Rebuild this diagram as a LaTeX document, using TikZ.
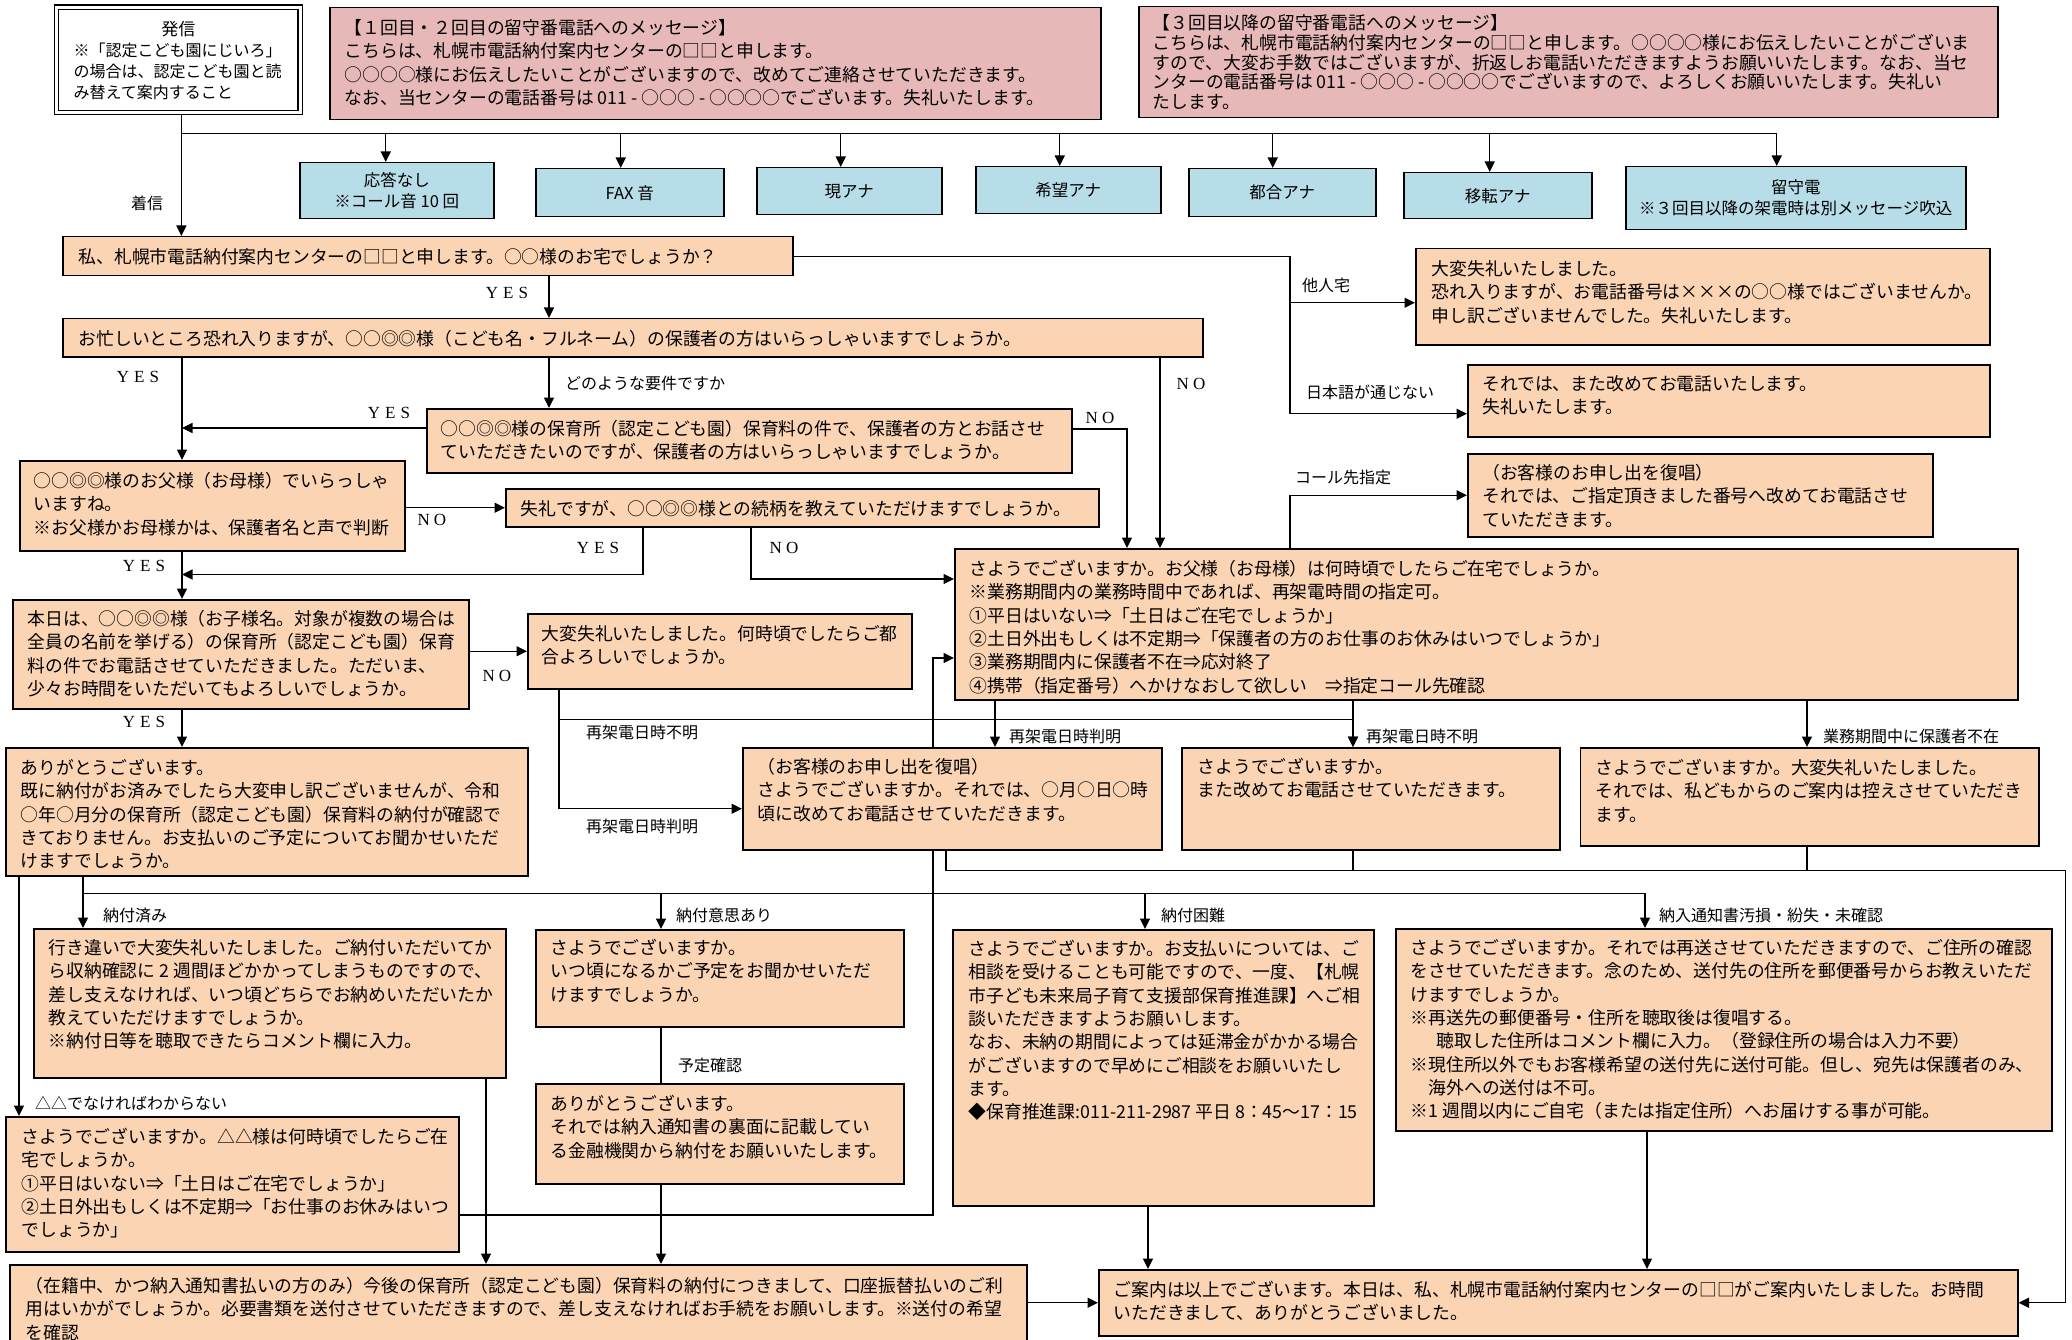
\documentclass[tikz,border=0pt]{standalone}
\usepackage{fontspec}
\setmainfont{Noto Sans CJK JP}
\newfontfamily\lat{Liberation Serif}
\usetikzlibrary{arrows.meta,calc}
\definecolor{peach}{HTML}{FBD4B4}
\definecolor{pinkc}{HTML}{E6B9B8}
\definecolor{bluec}{HTML}{B7DDE8}
\pgfdeclarelayer{bg}
\pgfdeclarelayer{paper}
\pgfsetlayers{paper,bg,main}
\newcommand\fsmain{\fontsize{17.8}{23.3}\selectfont}
\newcommand\yeslab{Y\hspace{5pt}E\hspace{5pt}S}
\newcommand\nolab{N\hspace{4pt}O}
% name, style, x, y, w, h, left pad, first-line centre offset, text
\newcommand\bx[9]{%
 \node[#2,anchor=north west,inner sep=0pt,minimum width=#5pt,minimum height=#6pt] (#1) at (#3,#4)
 {\parbox[c][#6pt][t]{#5pt}{\vspace*{\dimexpr#8pt-0.52em\relax}\leftskip=#7pt\relax\rule{0pt}{0.9em}#9}};}
\begin{document}
\begin{tikzpicture}[x=1pt,y=-1pt,
 arr/.style={-{Triangle[length=10.5pt,width=10pt]},line width=1.2pt},
 ln/.style={line width=1.2pt},
 pbox/.style={draw,line width=1.5pt,fill=peach,font=\fsmain},
 kbox/.style={draw,line width=1.5pt,fill=pinkc,font=\fsmain},
 bluebox/.style={draw,line width=1.5pt,fill=bluec,font=\fontsize{16.5}{21}\selectfont,align=center,inner sep=0pt,anchor=north west},
 lab/.style={font=\fontsize{16}{18}\selectfont,inner sep=0pt,anchor=west},
 yn/.style={font=\lat\fontsize{17}{19}\selectfont,inner sep=0pt}]
\begin{pgfonlayer}{paper}
\fill[white] (0,0) rectangle (2072,1340);
\end{pgfonlayer}
\useasboundingbox (0,0) rectangle (2072,1340);

% ---- top ----
\bx{hs}{draw,line width=1.3pt,double,double distance=2.8pt,fill=white,font=\fontsize{16}{21.3}\selectfont}{56}{6.5}{243.5}{105.5}{17}{21.8}{\makebox[209.5pt][c]{\fontsize{17}{21.3}\selectfont 発信}\\※「認定こども園にじいろ」\\の場合は、認定こども園と読\\み替えて案内すること}
\bx{P1}{kbox}{329}{7}{771}{112}{15}{20}{【１回目・２回目の留守番電話へのメッセージ】\\こちらは、札幌市電話納付案内センターの□□と申します。\\○○○○様にお伝えしたいことがございますので、改めてご連絡させていただきます。\\なお、当センターの電話番号は 011 - ○○○ - ○○○○でございます。失礼いたします。}
\bx{P2}{kbox,font=\fontsize{17.8}{19.8}\selectfont}{1138}{6}{859}{111}{14}{16}{【３回目以降の留守番電話へのメッセージ】\\こちらは、札幌市電話納付案内センターの□□と申します。○○○○様にお伝えしたいことがございま\\すので、大変お手数ではございますが、折返しお電話いただきますようお願いいたします。なお、当セ\\ンターの電話番号は 011 - ○○○ - ○○○○でございますので、よろしくお願いいたします。失礼い\\たします。}

\node[bluebox,minimum width=194pt,minimum height=56pt] (b1) at (299,162) {応答なし\\※コール音 10 回};
\node[bluebox,minimum width=188pt,minimum height=48pt] (b2) at (535,168) {FAX 音};
\node[bluebox,minimum width=185pt,minimum height=47pt] (b3) at (756,167) {現アナ};
\node[bluebox,minimum width=185pt,minimum height=47pt] (b4) at (975,166) {希望アナ};
\node[bluebox,minimum width=187pt,minimum height=48pt] (b5) at (1188,168) {都合アナ};
\node[bluebox,minimum width=188pt,minimum height=46pt] (b6) at (1403,172) {移転アナ};
\node[bluebox,minimum width=340pt,minimum height=63pt] (b7) at (1625,166) {留守電\\※３回目以降の架電時は別メッセージ吹込};

% ---- peach boxes ----
\bx{A}{pbox}{62}{236}{730}{39}{16}{19.5}{私、札幌市電話納付案内センターの□□と申します。○○様のお宅でしょうか？}
\bx{B1}{pbox}{1415}{248}{574}{96}{16}{20}{大変失礼いたしました。\\恐れ入りますが、お電話番号は×××の○○様ではございませんか。\\申し訳ございませんでした。失礼いたします。}
\bx{B2}{pbox}{1467}{364}{522}{72}{14.5}{19}{それでは、また改めてお電話いたします。\\失礼いたします。}
\bx{B3}{pbox}{1467}{453}{465}{83}{14.5}{19}{（お客様のお申し出を復唱）\\それでは、ご指定頂きました番号へ改めてお電話させ\\ていただきます。}
\bx{C1}{pbox}{62}{318}{1140}{38}{16}{20}{お忙しいところ恐れ入りますが、○○◎◎様（こども名・フルネーム）の保護者の方はいらっしゃいますでしょうか。}
\bx{C2}{pbox}{426}{408}{645}{64}{14}{20}{○○◎◎様の保育所（認定こども園）保育料の件で、保護者の方とお話させ\\ていただきたいのですが、保護者の方はいらっしゃいますでしょうか。}
\bx{D}{pbox}{19}{460}{385}{90}{14}{20}{○○◎◎様のお父様（お母様）でいらっしゃ\\いますね。\\※お父様かお母様かは、保護者名と声で判断}
\bx{D2}{pbox}{505}{488}{593}{38}{15}{20}{失礼ですが、○○◎◎様との続柄を教えていただけますでしょうか。}
\bx{E}{pbox}{954}{548}{1063}{151}{15}{20}{さようでございますか。お父様（お母様）は何時頃でしたらご在宅でしょうか。\\※業務期間内の業務時間中であれば、再架電時間の指定可。\\①平日はいない⇒「土日はご在宅でしょうか」\\②土日外出もしくは不定期⇒「保護者の方のお仕事のお休みはいつでしょうか」\\③業務期間内に保護者不在⇒応対終了\\④携帯（指定番号）へかけなおして欲しい　⇒指定コール先確認}
\bx{F}{pbox}{12}{599}{456}{109}{15}{19}{本日は、○○◎◎様（お子様名。対象が複数の場合は\\全員の名前を挙げる）の保育所（認定こども園）保育\\料の件でお電話させていただきました。ただいま、\\少々お時間をいただいてもよろしいでしょうか。}
\bx{F2}{pbox}{527}{613}{384}{75}{14}{20}{大変失礼いたしました。何時頃でしたらご都\\合よろしいでしょうか。}
\bx{G1}{pbox}{742}{747}{419}{102}{15}{19}{（お客様のお申し出を復唱）\\さようでございますか。それでは、○月○日○時\\頃に改めてお電話させていただきます。}
\bx{G2}{pbox}{1181}{747}{378}{102}{16}{19}{さようでございますか。\\また改めてお電話させていただきます。}
\bx{G3}{pbox}{1579.5}{747}{458.5}{98}{15.5}{20}{さようでございますか。大変失礼いたしました。\\それでは、私どもからのご案内は控えさせていただき\\ます。}
\bx{H}{pbox}{5}{747}{522}{128}{15}{20}{ありがとうございます。\\既に納付がお済みでしたら大変申し訳ございませんが、令和\\○年○月分の保育所（認定こども園）保育料の納付が確認で\\きておりません。お支払いのご予定についてお聞かせいただ\\けますでしょうか。}
\bx{I1}{pbox}{33}{928}{472}{149}{15}{19}{行き違いで大変失礼いたしました。ご納付いただいてか\\ら収納確認に 2 週間ほどかかってしまうものですので、\\差し支えなければ、いつ頃どちらでお納めいただいたか\\教えていただけますでしょうか。\\※納付日等を聴取できたらコメント欄に入力。}
\bx{I2}{pbox}{535}{929}{368}{97}{15}{18}{さようでございますか。\\いつ頃になるかご予定をお聞かせいただ\\けますでしょうか。}
\bx{I2b}{pbox}{535}{1083}{368}{100}{15}{20}{ありがとうございます。\\それでは納入通知書の裏面に記載してい\\る金融機関から納付をお願いいたします。}
\bx{I3}{pbox}{952}{929}{421}{276}{16}{19}{さようでございますか。お支払いについては、ご\\相談を受けることも可能ですので、一度、【札幌\\市子ども未来局子育て支援部保育推進課】へご相\\談いただきますようお願いします。\\なお、未納の期間によっては延滞金がかかる場合\\がございますので早めにご相談をお願いいたし\\ます。\\◆保育推進課:011-211-2987 平日 8：45～17：15}
\bx{I4}{pbox}{1395}{928}{656}{202}{15}{19}{さようでございますか。それでは再送させていただきますので、ご住所の確認\\をさせていただきます。念のため、送付先の住所を郵便番号からお教えいただ\\けますでしょうか。\\※再送先の郵便番号・住所を聴取後は復唱する。\\\hspace*{26pt}聴取した住所はコメント欄に入力。（登録住所の場合は入力不要）\\※現住所以外でもお客様希望の送付先に送付可能。但し、宛先は保護者のみ、\\\hspace*{18pt}海外への送付は不可。\\※1 週間以内にご自宅（または指定住所）へお届けする事が可能。}
\bx{J}{pbox}{5}{1116}{453}{135}{16}{20}{さようでございますか。△△様は何時頃でしたらご在\\宅でしょうか。\\①平日はいない⇒「土日はご在宅でしょうか」\\②土日外出もしくは不定期⇒「お仕事のお休みはいつ\\でしょうか」}
\bx{K}{pbox}{9}{1264}{1017}{100}{16}{21}{（在籍中、かつ納入通知書払いの方のみ）今後の保育所（認定こども園）保育料の納付につきまして、口座振替払いのご利\\用はいかがでしょうか。必要書類を送付させていただきますので、差し支えなければお手続をお願いします。※送付の希望\\を確認}
\bx{Z}{pbox}{1098}{1269}{919}{66}{15}{20}{ご案内は以上でございます。本日は、私、札幌市電話納付案内センターの□□がご案内いたしました。お時間\\いただきまして、ありがとうございました。}

% ---- connectors ----
\begin{pgfonlayer}{bg}
\coordinate (hsb) at ($(hs.south)+(3,0)$);
\draw[arr] (hsb) -- (hsb |- A.north);
\coordinate (br) at ($(hsb)+(0,20)$);
\coordinate (t1) at ($(b1.north)+(-11,0)$);
\coordinate (t2) at ($(b2.north)+(-9,0)$);
\coordinate (t3) at ($(b3.north)+(-8.5,0)$);
\coordinate (t4) at ($(b4.north)+(-8.5,0)$);
\coordinate (t5) at ($(b5.north)+(-9.5,0)$);
\coordinate (t6) at ($(b6.north)+(-8,0)$);
\coordinate (t7) at ($(b7.north)+(-19,0)$);
\draw[arr] (br) -| (t7);
\foreach \i in {1,...,6} \draw[arr] (br -| t\i) -- (t\i);

\coordinate (ac) at ($(A.south west)+(487,0)$);
\draw[arr] (ac) -- (ac |- C1.north);

\coordinate (vx) at ($(B1.west)+(-125,6)$);
\draw[arr] (A.east) -| (vx) -- ($(B1.west)+(0,6)$);
\draw[arr] (vx) |- ($(B2.west)+(0,13)$);

\coordinate (eb) at ($(E.north west)+(336,0)$);
\draw[arr] (eb) |- (B3.west);

\coordinate (yx) at ($(C1.south west)+(120,0)$);
\draw[arr] (yx) -- (yx |- D.north);

\coordinate (cc) at ($(C1.south west)+(487,0)$);
\draw[arr] (cc) -- (cc |- C2.north);

\coordinate (c2l) at ($(C2.north west)+(0,20)$);
\draw[arr] (c2l) -- (c2l -| yx);

\coordinate (c2r) at ($(C2.north east)+(0,21)$);
\coordinate (e1) at ($(E.north west)+(173,0)$);
\draw[arr] (c2r) -| (e1);

\coordinate (e2) at ($(E.north west)+(206,0)$);
\draw[arr] (e2 |- C1.south) -- (e2);

\draw[arr] (D.east |- D2.west) -- (D2.west);

\coordinate (d2a) at ($(D2.south west)+(138,0)$);
\coordinate (d2y) at ($(d2a)+(0,47)$);
\draw[arr] (d2a) -- (d2y) -- (d2y -| yx);

\coordinate (d2b) at ($(D2.south west)+(246,0)$);
\coordinate (e3) at ($(E.north west)+(0,31)$);
\draw[arr] (d2b) |- (e3);

\draw[arr] (yx |- D.south) -- (yx |- F.north);
\draw[arr] (F.east |- F2.west) -- (F2.west);

\coordinate (f2a) at ($(F2.south west)+(32,0)$);
\coordinate (hy) at ($(E.south)+(0,19)$);
\coordinate (g2t) at ($(G2.north west)+(172,0)$);
\draw[arr] (f2a) |- (g2t |- hy) -- (g2t);
\coordinate (g1l) at ($(G1.west)+(0,10)$);
\draw[arr] (f2a) |- (g1l);

\coordinate (g1t) at ($(G1.north west)+(253,0)$);
\draw[arr] (g1t |- E.south) -- (g1t);
\draw[arr] (g2t |- E.south) -- (g2t);
\coordinate (g3t) at ($(G3.north west)+(227.5,0)$);
\draw[arr] (g3t |- E.south) -- (g3t);

\coordinate (g1b) at ($(G1.south west)+(204,0)$);
\coordinate (my) at ($(G1.south)+(0,20)$);
\coordinate (rx) at ($(Z.east)+(47,0)$);
\draw[arr] (g1b) |- (rx |- my) |- (Z.east);
\draw[ln] (g2t |- G2.south) -- (g2t |- my);
\draw[ln] (g3t |- G3.south) -- (g3t |- my);

\draw[arr] (yx |- F.south) -- (yx |- H.north);

\coordinate (hx) at ($(H.south west)+(78,0)$);
\coordinate (ny) at ($(H.south)+(0,17)$);
\coordinate (i4t) at ($(I4.north west)+(250,0)$);
\draw[arr] (hx) |- (i4t |- ny) -- (i4t);
\draw[arr] (hx |- ny) -- (hx |- I1.north);
\coordinate (i2t) at ($(I2.north west)+(126,0)$);
\draw[arr] (i2t |- ny) -- (i2t);
\coordinate (i3t) at ($(I3.north west)+(193,0)$);
\draw[arr] (i3t |- ny) -- (i3t);

\coordinate (hl) at ($(H.south west)+(14,0)$);
\draw[arr] (hl) -- (hl |- J.north);

\coordinate (i1b) at ($(I1.south west)+(453,0)$);
\draw[arr] (i1b) -- (i1b |- K.north);

\draw[ln] (i2t |- I2.south) -- (i2t |- I2b.north);
\draw[arr] (i2t |- I2b.south) -- (i2t |- K.north);

\coordinate (i3b) at ($(I3.south west)+(196,0)$);
\draw[arr] (i3b) -- (i3b |- Z.north);
\coordinate (i4b) at ($(I4.south west)+(252,0)$);
\draw[arr] (i4b) -- (i4b |- Z.north);

\coordinate (jr) at ($(J.north east)+(0,99)$);
\coordinate (ex) at ($(E.north west)+(-21,110)$);
\draw[arr] (jr) -| (ex) -- (ex -| E.west);

\draw[arr] (K.east |- Z.west) -- (Z.west);
\end{pgfonlayer}

% ---- labels ----
\node[lab,anchor=center] (l0) at (147,203) {着信};
\node[lab] (l1) at (1302,285) {他人宅};
\node[lab] (l2) at (1306,392) {日本語が通じない};
\node[lab] (l3) at (1295,477) {コール先指定};
\node[lab] (l4) at (565,383) {どのような要件ですか};
\node[lab] (l5) at (586,732) {再架電日時不明};
\node[lab] (l6) at (586,826) {再架電日時判明};
\node[lab] (l7) at (1009,736) {再架電日時判明};
\node[lab] (l8) at (1366,736) {再架電日時不明};
\node[lab] (l9) at (1823,736) {業務期間中に保護者不在};
\node[lab] (l10) at (103,915) {納付済み};
\node[lab] (l11) at (676,915) {納付意思あり};
\node[lab] (l12) at (1161,915) {納付困難};
\node[lab] (l13) at (1659,915) {納入通知書汚損・紛失・未確認};
\node[lab] (l14) at (35,1103) {△△でなければわからない};
\node[lab] (l15) at (678,1065) {予定確認};

\node[yn] (y1) at (507,293) {\yeslab};
\node[yn] (y2) at (138,377) {\yeslab};
\node[yn] (y3) at (389,413) {\yeslab};
\node[yn] (y4) at (598,548) {\yeslab};
\node[yn] (y5) at (144,566) {\yeslab};
\node[yn] (y6) at (144,722) {\yeslab};
\node[yn] (n1) at (1100,418) {\nolab};
\node[yn] (n2) at (1191,384) {\nolab};
\node[yn] (n3) at (432,520) {\nolab};
\node[yn] (n4) at (784,548) {\nolab};
\node[yn] (n5) at (497,676) {\nolab};
\end{tikzpicture}
\end{document}
